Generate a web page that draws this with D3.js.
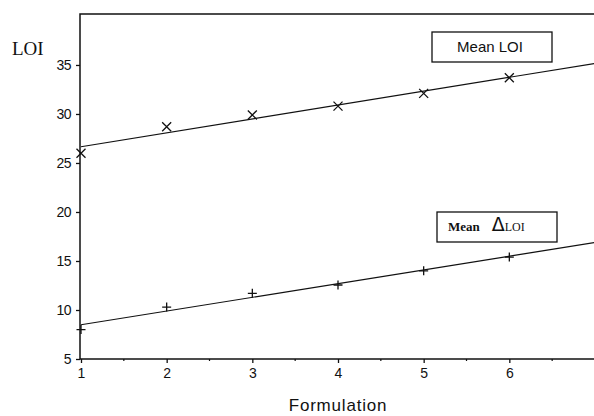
<!DOCTYPE html>
<html lang="en">
<head>
<meta charset="utf-8">
<title>LOI vs Formulation</title>
<script src="https://cdn.jsdelivr.net/npm/d3@7"></script>
<style>
  html, body { margin: 0; padding: 0; background: #fff; }
  svg { display: block; }
</style>
</head>
<body>
<script>
// data
let formulations = [1, 2, 3, 4, 5, 6];
let meanLOI      = [26.0, 28.7, 29.9, 30.8, 32.1, 33.7];
let meanDeltaLOI = [8.0, 10.3, 11.7, 12.55, 14.0, 15.4];
let yTicks = [5, 10, 15, 20, 25, 30, 35];
let xTicks = [1, 2, 3, 4, 5, 6];

let w = 594, h = 416;
let padL = 80, padT = 14, padR = 595, padB = 359;

let svg = d3.select("body").append("svg")
  .attr("width", w)
  .attr("height", h);

let x = d3.scaleLinear().domain([1, 7]).range([padL + 1, padR]);
let y = d3.scaleLinear().domain([5, 40.2]).range([padB, padT]);

// frame
svg.append("rect")
  .attr("x", padL).attr("y", padT)
  .attr("width", padR - padL).attr("height", padB - padT)
  .attr("fill", "none").attr("stroke", "#111").attr("stroke-width", 1.5);

// y axis
let yAxis = d3.axisLeft(y).tickValues(yTicks).tickSize(4).tickPadding(5);
let gy = svg.append("g").attr("transform", "translate(" + padL + ",0)").call(yAxis);
gy.select(".domain").remove();
gy.selectAll("text").attr("font-family", "Liberation Sans, Arial, sans-serif")
  .attr("font-size", 14).attr("fill", "#111").attr("letter-spacing", -0.5);
gy.selectAll("line").attr("stroke", "#111").attr("stroke-width", 1.3);

// x axis
let xAxis = d3.axisBottom(x).tickValues(xTicks).tickFormat(d3.format("d"))
  .tickSize(4).tickPadding(5);
let gx = svg.append("g").attr("transform", "translate(0," + padB + ")").call(xAxis);
gx.select(".domain").remove();
gx.selectAll("text").attr("font-family", "Liberation Sans, Arial, sans-serif")
  .attr("font-size", 14).attr("fill", "#111");
gx.selectAll("line").attr("stroke", "#111").attr("stroke-width", 1.3);

// minor ticks on the x axis
svg.append("g").selectAll("line")
  .data(d3.range(1.5, 7, 1))
  .enter().append("line")
  .attr("x1", d => x(d)).attr("x2", d => x(d))
  .attr("y1", padB).attr("y2", padB + 2)
  .attr("stroke", "#111").attr("stroke-width", 1.2);

// least squares fit of each series
function fit(xs, ys) {
  let mx = d3.mean(xs), my = d3.mean(ys);
  let sxy = d3.sum(xs, (v, i) => (v - mx) * (ys[i] - my));
  let sxx = d3.sum(xs, v => (v - mx) * (v - mx));
  let b = sxy / sxx;
  return t => my + b * (t - mx);
}

svg.append("clipPath").attr("id", "plot")
  .append("rect").attr("x", padL).attr("y", padT)
  .attr("width", padR - padL).attr("height", padB - padT);

let plot = svg.append("g").attr("clip-path", "url(#plot)");

[meanLOI, meanDeltaLOI].forEach(series => {
  let f = fit(formulations, series);
  plot.append("line")
    .attr("x1", x(1)).attr("y1", y(f(1)))
    .attr("x2", x(7)).attr("y2", y(f(7)))
    .attr("stroke", "#111").attr("stroke-width", 1.2);
});

// x markers for Mean LOI
let s = 4.5;
svg.append("g").selectAll("path")
  .data(formulations)
  .enter().append("path")
  .attr("d", (d, i) => {
    let cx = x(d), cy = y(meanLOI[i]);
    return "M" + (cx - s) + "," + (cy - s) + "L" + (cx + s) + "," + (cy + s) +
           "M" + (cx - s) + "," + (cy + s) + "L" + (cx + s) + "," + (cy - s);
  })
  .attr("stroke", "#111").attr("stroke-width", 1.3).attr("fill", "none");

// + markers for Mean delta LOI
svg.append("g").selectAll("path")
  .data(formulations)
  .enter().append("path")
  .attr("d", (d, i) => {
    let cx = x(d), cy = y(meanDeltaLOI[i]);
    return "M" + (cx - s) + "," + cy + "L" + (cx + s) + "," + cy +
           "M" + cx + "," + (cy - s) + "L" + cx + "," + (cy + s);
  })
  .attr("stroke", "#111").attr("stroke-width", 1.3).attr("fill", "none");

// legend boxes
let lg1 = svg.append("g");
lg1.append("rect").attr("x", 432).attr("y", 32).attr("width", 120).attr("height", 30)
  .attr("fill", "#fff").attr("stroke", "#111").attr("stroke-width", 1.3);
lg1.append("text").attr("x", 490).attr("y", 52).attr("text-anchor", "middle")
  .attr("font-family", "Liberation Sans, Arial, sans-serif").attr("font-size", 15)
  .attr("fill", "#111").text("Mean LOI");

let lg2 = svg.append("g");
lg2.append("rect").attr("x", 437).attr("y", 212).attr("width", 120).attr("height", 30)
  .attr("fill", "#fff").attr("stroke", "#111").attr("stroke-width", 1.3);
let t2 = lg2.append("text").attr("x", 448).attr("y", 231)
  .attr("font-family", "Liberation Serif, Times New Roman, serif").attr("fill", "#111");
t2.append("tspan").attr("font-size", 13).attr("font-weight", "bold").text("Mean");
t2.append("tspan").attr("dx", 12).attr("font-size", 19)
  .attr("font-family", "DejaVu Sans, sans-serif").text("\u0394");
t2.append("tspan").attr("font-size", 12).text("LOI");

// axis titles
svg.append("text").attr("x", 12).attr("y", 55)
  .attr("font-family", "Liberation Serif, Times New Roman, serif").attr("font-size", 19)
  .attr("fill", "#111").text("LOI");

svg.append("text").attr("x", 338).attr("y", 411).attr("text-anchor", "middle")
  .attr("font-family", "Liberation Sans, Arial, sans-serif").attr("font-size", 17)
  .attr("letter-spacing", 0.8)
  .attr("fill", "#111").text("Formulation");
</script>
</body>
</html>
